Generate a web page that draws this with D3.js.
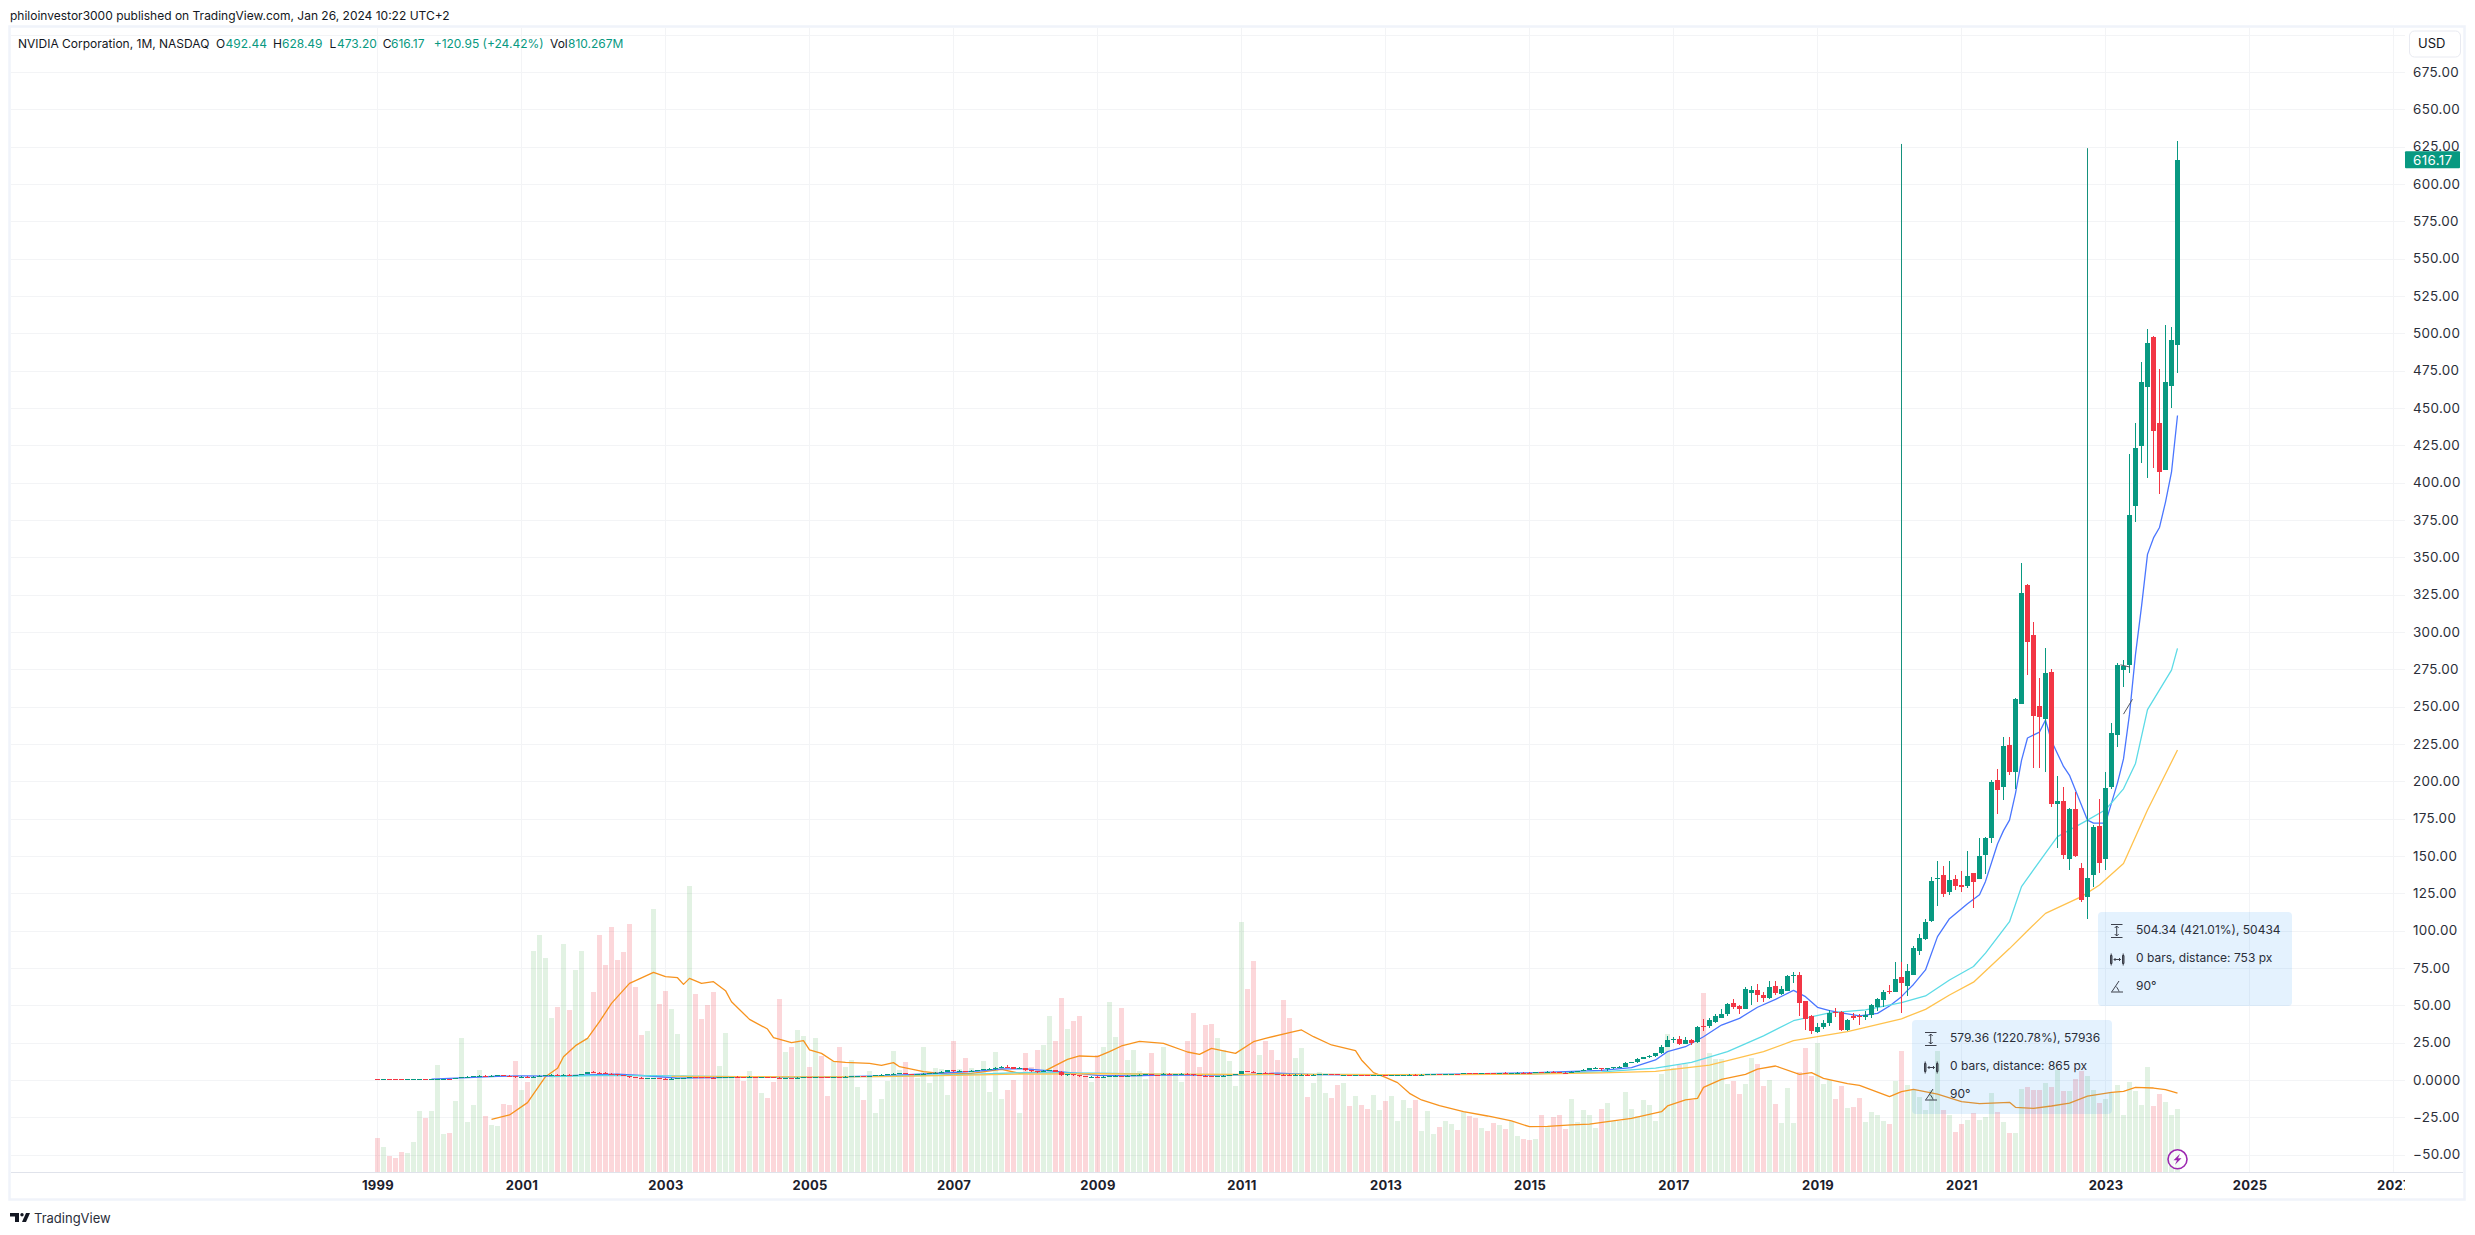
<!DOCTYPE html>
<html>
<head>
<meta charset="utf-8">
<script src="https://cdnjs.cloudflare.com/ajax/libs/d3/7.8.5/d3.min.js"></script>
<style>
    html, body { margin: 0; padding: 0; background: #fff; }
    svg { display: block; }
    text { font-family: Inter, "Noto Sans", sans-serif; }
</style>
</head>
<body>
<div id="chart"></div>
<script>
//monthly bars, bar 0 is Jan 1999 and bar 300 is Jan 2024
const opens = [
    .45,.40,.42,.38,.36,.34,.38,.42,.50,.46,.55,.75,
    .90,.85,1.4,1.9,2.1,2.4,3.0,2.8,2.9,3.2,2.9,2.4,
    1.8,2.2,1.8,2.2,2.9,3.2,3.5,3.2,3.6,2.9,3.3,3.9,
    5.2,4.9,4.6,4.3,3.9,3.2,2.6,2.0,1.6,1.0,1.1,1.4,
    1.0,.9,1.0,1.2,1.3,1.9,1.8,1.7,1.65,1.6,1.8,2.0,
    2.1,2.0,1.9,2.1,1.9,2.05,1.9,1.6,1.2,1.4,1.3,1.6,
    2.0,1.9,2.0,1.85,1.75,2.1,2.0,2.2,2.4,2.7,2.5,2.9,
    3.3,3.6,3.8,4.3,4.7,4.0,3.6,3.8,4.1,4.6,5.0,5.5,
    6.4,5.8,6.0,5.7,6.1,6.6,7.3,7.7,8.2,8.9,8.5,7.6,
    7.8,6.5,5.7,5.5,6.2,6.6,5.6,3.4,3.7,3.3,2.6,2.2,
    2.3,2.1,2.2,2.5,2.8,2.6,3.0,3.4,3.6,3.7,3.4,3.2,
    4.0,3.6,3.8,4.3,3.9,3.4,3.0,2.8,2.5,2.7,3.0,3.4,
    3.8,5.8,5.6,4.6,4.7,4.5,4.0,3.5,3.4,3.1,3.4,3.6,
    3.4,3.6,3.8,3.9,3.8,3.4,3.5,3.3,3.45,3.3,3.1,3.15,
    3.2,3.05,3.1,3.2,3.3,3.6,3.55,3.6,3.8,3.95,3.8,3.95,
    4.05,3.9,4.6,4.4,4.3,4.8,4.7,4.6,4.9,4.7,4.8,5.0,
    4.9,4.7,5.3,5.2,5.5,5.4,5.0,4.9,5.5,6.1,7.0,7.8,
    8.2,7.1,7.8,8.9,9.0,11.7,11.8,14.3,15.3,16.0,17.9,22.4,
    26.7,27.5,24.1,27,25.4,36.2,36,39.1,41.5,44.2,51.3,49.6,
    47.5,58.5,60.3,56.9,54.9,62.9,57.8,59.8,69.9,70.1,52.9,43.1,
    32.4,35.7,37.9,45.3,45.3,33.5,43.1,42.6,42,43.3,48.9,53.8,
    59.4,59,68.8,63.2,70.5,86.6,94.4,106.7,134.8,137.3,126,134.6,
    130.6,129.9,138.8,134.6,150.7,162,200.9,196.2,224.3,206.5,252,331.5,
    298,250.4,242,273.2,184.8,186.6,148,181.3,142,122.8,137.3,170,
    148,196.4,231,274.6,277.9,384.6,424.8,464.3,497.5,440,408.7,465,
    492.44
];
const closes = [
    .40,.42,.38,.36,.34,.38,.42,.50,.46,.55,.75,.90,
    .85,1.4,1.9,2.1,2.4,3.0,2.8,2.9,3.2,2.9,2.4,1.8,
    2.2,1.8,2.2,2.9,3.2,3.5,3.2,3.6,2.9,3.3,3.9,5.2,
    4.9,4.6,4.3,3.9,3.2,2.6,2.0,1.6,1.0,1.1,1.4,1.0,
    .9,1.0,1.2,1.3,1.9,1.8,1.7,1.65,1.6,1.8,2.0,2.1,
    2.0,1.9,2.1,1.9,2.05,1.9,1.6,1.2,1.4,1.3,1.6,2.0,
    1.9,2.0,1.85,1.75,2.1,2.0,2.2,2.4,2.7,2.5,2.9,3.3,
    3.6,3.8,4.3,4.7,4.0,3.6,3.8,4.1,4.6,5.0,5.5,6.4,
    5.8,6.0,5.7,6.1,6.6,7.3,7.7,8.2,8.9,8.5,7.6,7.8,
    6.5,5.7,5.5,6.2,6.6,5.6,3.4,3.7,3.3,2.6,2.2,2.3,
    2.1,2.2,2.5,2.8,2.6,3.0,3.4,3.6,3.7,3.4,3.2,4.0,
    3.6,3.8,4.3,3.9,3.4,3.0,2.8,2.5,2.7,3.0,3.4,3.8,
    5.8,5.6,4.6,4.7,4.5,4.0,3.5,3.4,3.1,3.4,3.6,3.4,
    3.6,3.8,3.9,3.8,3.4,3.5,3.3,3.45,3.3,3.1,3.15,3.2,
    3.05,3.1,3.2,3.3,3.6,3.55,3.6,3.8,3.95,3.8,3.95,4.05,
    3.9,4.6,4.4,4.3,4.8,4.7,4.6,4.9,4.7,4.8,5.0,4.9,
    4.7,5.3,5.2,5.5,5.4,5.0,4.9,5.5,6.1,7.0,7.8,8.2,
    7.1,7.9,8.9,8.95,11.6,11.75,14.3,15.3,16.0,17.9,22.4,26.7,
    27.3,24.1,27,25,35.7,36,40.2,42.9,44.2,50.9,48.7,47.8,
    60.9,60.3,57.1,55.1,62.3,58.4,60.7,69.6,70.1,51.8,40.6,33,
    35.3,38.5,44.9,44.6,33.5,40,41.7,42,43.3,50,54.2,59.2,
    59,67.4,65.2,73,88.2,95.1,105.6,133.3,135,124.6,133.9,129.9,
    129.5,136.6,132.6,150,162.3,199.6,194.2,223.7,206.5,254.9,325.9,293.3,
    243.8,243,272.5,184.8,186.6,150.7,181.5,149.8,120.5,135,169.2,145.5,
    195.5,232.1,277.9,277.2,378.3,423.2,467.4,493.5,434.8,407.4,467.4,495.5,
    616.17
];
const highs = [
    .46,.45,.43,.40,.38,.40,.45,.52,.52,.58,.80,1.0,
    1.0,1.5,2.1,2.5,2.6,3.3,3.4,3.2,3.6,3.5,3.1,2.6,
    2.6,2.5,2.4,3.2,3.6,3.9,3.7,3.8,3.7,3.5,4.3,5.6,
    5.7,5.5,5.2,4.7,4.0,3.3,2.7,2.2,1.7,1.3,1.6,1.5,
    1.1,1.1,1.3,1.5,2.0,2.2,2.0,1.9,1.9,2.0,2.2,2.3,
    2.4,2.2,2.4,2.3,2.2,2.2,2.0,1.7,1.5,1.6,1.8,2.2,
    2.2,2.2,2.2,1.95,2.2,2.3,2.4,2.6,2.8,2.8,3.0,3.4,
    3.9,4.0,4.4,5.0,5.0,4.3,3.9,4.4,4.8,5.2,5.7,6.6,
    6.7,6.4,6.2,6.4,6.9,7.6,8.2,8.6,9.2,9.9,8.9,8.5,
    7.9,6.9,6.1,6.4,7.0,6.8,5.7,4.1,3.9,3.4,2.8,2.6,
    2.6,2.6,2.9,3.2,3.0,3.2,3.6,3.8,4.0,3.9,3.6,4.4,
    4.6,4.0,4.5,4.6,4.1,3.6,3.1,3.0,2.8,3.1,3.6,3.9,
    6.0,6.2,5.9,5.0,5.1,4.6,4.2,3.7,3.9,3.9,3.9,3.9,
    3.8,4.0,4.0,4.0,3.8,3.6,3.6,3.6,3.6,3.4,3.2,3.3,
    3.3,3.2,3.3,3.4,3.8,3.8,3.8,4.0,4.1,4.0,4.1,4.1,
    4.2,4.7,4.8,4.6,4.9,5.0,4.9,5.0,5.1,4.9,5.2,5.2,
    5.1,5.5,5.6,5.7,5.8,5.5,5.1,5.7,6.3,7.2,8.0,8.7,
    8.3,8.0,9.0,9.4,11.8,12.0,14.6,15.6,16.6,18.1,23.5,29.5,
    28.9,29.5,28.5,27.6,36,41,41.5,44.5,47.5,51.5,54,50.5,
    62,63,64,59,66,66.5,63,70.5,72,72.5,53,43.5,
    38,40,47,48,46,41,45,44,46,51,55,60,
    63.5,79,79,78,90,98,107.6,135.7,146.7,143.3,146.7,137.3,
    140,153.3,138.9,162,163,201,208,230,229.5,256,346.2,332,
    307,269,289,275,203.6,196,182,192.9,145.5,135,171,188,
    206,238.8,279,281,419,440,480.8,503,498,476,505.6,504.5,
    628.49
];
const lows = [
    .38,.38,.36,.34,.32,.33,.36,.40,.44,.44,.52,.72,
    .75,.8,1.3,1.5,1.8,2.2,2.5,2.5,2.7,2.5,2.0,1.5,
    1.6,1.6,1.5,2.0,2.6,2.9,3.0,3.0,2.7,2.6,3.1,3.8,
    4.6,4.2,4.0,3.6,3.0,2.4,1.6,1.2,.9,.8,.95,.9,
    .8,.85,.9,1.1,1.25,1.7,1.5,1.5,1.5,1.5,1.7,1.8,
    1.9,1.7,1.8,1.8,1.7,1.8,1.5,1.1,1.1,1.2,1.2,1.5,
    1.7,1.8,1.8,1.6,1.7,1.9,1.9,2.1,2.3,2.3,2.4,2.8,
    3.2,3.4,3.7,4.2,3.8,3.1,3.2,3.6,4.0,4.5,4.9,5.4,
    5.5,5.5,5.3,5.6,6.0,6.4,7.0,6.6,8.0,8.2,7.2,7.3,
    5.9,5.4,5.0,5.4,6.0,5.4,2.9,3.0,2.4,2.0,1.7,1.9,
    1.9,1.9,2.0,2.4,2.4,2.5,2.7,3.2,3.3,3.2,3.0,3.1,
    3.4,3.4,3.7,3.7,3.0,2.6,2.4,2.3,2.4,2.6,2.9,3.3,
    3.8,5.1,4.4,4.2,4.3,3.8,3.4,2.9,3.0,2.9,3.3,3.2,
    3.3,3.5,3.6,3.5,3.2,3.1,3.1,3.2,3.2,3.0,2.9,3.0,
    3.0,3.0,3.0,3.1,3.2,3.4,3.5,3.5,3.7,3.7,3.7,3.8,
    3.8,3.9,4.3,4.2,4.3,4.6,4.3,4.5,4.6,4.3,4.7,4.7,
    4.5,4.7,5.1,5.1,5.3,4.9,4.6,4.7,5.4,6.0,6.9,7.6,
    6.3,6.3,7.6,8.6,8.9,11.1,11.5,14.0,14.9,15.4,17.6,22.2,
    25,23.5,23.8,23.6,25,33,35,38.5,41.2,43,47.5,44.5,
    47.5,50,52.5,52,54,57,57,59.5,65,43,33.5,31,
    31.5,34,36,42.5,33,33,40,36.5,40,41.5,46,49,
    57.5,58.7,45,56,70,84,94,106,116.7,122.8,124,127,
    126,128.8,115.2,134.6,138,159,178,187.5,204,195,252,271,
    209,209,206.5,183,155.4,148,140.6,149.6,119,108,129.5,138.4,
    140.6,195,223,263,272.8,373.9,413.4,403.3,410,392.6,408.7,450,
    473.20
];

//monthly volume in millions of shares
const volumes = [
    435,320,209,179,256,243,384,781,696,781,1370,486,
    499,909,1715,640,858,1306,717,602,589,870,858,1421,
    1050,1152,2829,3034,2739,1971,2112,2919,2074,2586,2829,1715,
    2304,3034,2650,3136,2714,2816,3175,2368,1754,1805,3367,2151,
    2317,2087,1767,1242,3661,2279,1959,2138,2304,1357,1779,1199,
    1212,1165,1293,1212,1011,947,1152,2215,1536,1600,1818,1741,
    1344,1715,1485,973,1421,1600,1344,1434,1088,922,1293,755,
    934,1165,1549,1306,1408,1242,1199,1600,1139,1331,1319,986,
    1677,1319,1459,1331,1255,1421,1024,1536,934,1050,1178,755,
    1523,1344,1562,1626,1997,1677,2227,1831,1933,1997,1237,1152,
    1498,1600,2176,1728,2099,1434,1562,1293,1190,1523,1242,1600,
    1255,1242,1152,1677,2035,1344,1882,1895,1715,1562,1421,1101,
    3200,2343,2701,1498,1677,1562,1434,2202,1971,1459,1587,960,
    1139,1280,1011,947,1114,1139,845,973,858,806,986,794,
    909,973,653,922,819,922,525,781,486,576,653,614,
    538,768,717,691,563,525,627,602,550,653,461,422,
    410,422,730,589,704,730,550,934,640,794,730,563,
    806,883,653,653,1024,806,717,922,858,653,1255,1767,
    1331,1370,1383,922,1690,2291,1523,1447,1447,1126,1165,998,
    1126,1459,1383,1101,1178,870,627,1075,627,1280,1587,1229,
    1651,1126,1178,934,1101,819,832,947,640,768,730,653,
    614,1165,1549,1114,1050,960,794,1050,1549,794,725,512,
    614,666,755,666,704,1011,768,640,499,499,1062,1088,
    1050,1050,1139,1092,1310,1041,1041,1195,1297,1233,1054,888,
    939,1020,1118,734,1156,1041,862,1348,849,1003,900,734,
    811
];

//moving averages, bar index and value
const blueBars = [9,15,20,24,30,36,40,46,50,56,62,70,76,84,92,100,104,108,114,120,126,132,138,144,150,156,168,180,192,204,209,213,215,218,221,224,227,230,233,236,238,240,242,244,247,250,252,254,255,256,258,260,262,265,267,268,270,271,272,273,274,275,277,278,279,281,282,283,285,286,288,290,291,292,293,294,295,296,297,298,299,300];
const blueValues = [.6,1.6,2.5,2.7,2.6,3.6,4,2.5,1.2,1.6,2,1.7,2,2.8,4.2,6,7.5,7.5,5.5,3.1,2.8,3.5,3.3,3.5,4.6,3.6,3.3,3.9,4.8,6.5,8.3,13.4,19,22.3,29,36.8,41.3,48.7,54,60,55.8,48.7,46.4,45,42.9,44.6,49.6,55.8,60,64,73.7,96,108,118,124,133,158,167,174,192,214,229,233,241,227,210,204,194,174,172,172,199,215,245,285,317,352,363,370,387,407,445];
const cyanBars = [29,36,46,56,70,84,100,108,120,132,144,156,168,180,192,204,213,219,225,231,236,242,248,254,258,262,266,268,272,274,278,280,285,288,291,293,295,299,300];
const cyanValues = [2.3,3,2.9,2.4,1.9,2.4,4,5,4.6,3.8,3.6,3.8,3.6,3.8,4.2,5.5,8,11.8,19,29.5,39.7,45,46.9,51.8,56.3,67,76,85,106,129.5,152,163,174,181,195,212,248,274.5,289];
const yellowBars = [49,60,72,84,96,108,120,132,144,156,168,180,192,204,213,222,231,236,245,254,258,262,266,272,275,278,284,287,291,295,300];
const yellowValues = [2.4,2.3,2.1,2.3,3.1,4,4.2,3.9,3.7,3.8,3.6,3.6,3.9,4.8,5.8,10,19,26.3,32.4,41,47.3,56.9,65.5,88,100,111.6,122.8,130.6,145,180.8,221];
//orange line sits on the volume scale, values in millions
const orangeBars = [19,22,25,28,30,31,33,35,37,39,42,46,48,50,51,52,54,56,58,59,62,65,66,69,71,72,74,76,78,82,84,86,87,89,91,95,99,104,107,111,115,117,120,122,124,127,131,135,137,139,143,146,148,152,154,156,159,163,164,166,168,170,172,174,177,181,185,189,192,195,199,202,205,209,214,215,218,220,221,224,228,230,233,237,239,241,245,247,252,254,256,260,264,267,272,273,276,279,282,285,289,291,293,296,298,300];
const orangeValues = [674,730,888,1220,1327,1476,1617,1711,1924,2159,2415,2556,2500,2487,2402,2479,2415,2436,2321,2180,1954,1830,1720,1656,1681,1562,1519,1417,1404,1391,1365,1400,1348,1318,1284,1254,1263,1314,1263,1284,1442,1485,1476,1540,1613,1673,1647,1536,1506,1583,1519,1668,1711,1784,1818,1732,1626,1553,1434,1272,1212,1144,1007,922,849,772,717,653,580,585,602,614,644,687,772,845,922,943,1084,1186,1250,1318,1357,1250,1272,1199,1131,1109,964,1028,1058,998,900,875,892,828,815,845,881,971,1020,1033,1084,1075,1054,1011];

//axis ticks
const priceTicks = [-50,-25,0,25,50,75,100,125,150,175,200,225,250,275,300,325,350,375,400,425,450,475,500,525,550,575,600,625,650,675];
const priceGrid = [-50,-25,0,25,50,75,100,125,150,175,200,225,250,275,300,325,350,375,400,425,450,475,500,525,550,575,600,625,650,675,700];
const yearLabels = [1999,2001,2003,2005,2007,2009,2011,2013,2015,2017,2019,2021,2023,2025,2027];

//the two vertical measure lines and their info boxes
const measureBars = [254,285];
const measureFrom = [47.46,108];
const measureTo = [626.82,624];
const measureLines = [
    ['579.36 (1220.78%), 57936','0 bars, distance: 865 px','90°'],
    ['504.34 (421.01%), 50434','0 bars, distance: 753 px','90°']
];
//small black strokes left of the Apr 2023 candle
const strayBars = [[290.5,292.1],[291,292.5]];
const strayValues = [[278,276.5],[245,255]];

//header texts
const publishedText = 'philoinvestor3000 published on TradingView.com, Jan 26, 2024 10:22 UTC+2';
const symbolText = 'NVIDIA Corporation, 1M, NASDAQ';
const legendLabels = ['O','H','L','C','','Vol'];
const legendValues = ['492.44','628.49','473.20','616.17','+120.95 (+24.42%)','810.267M'];

const upColor = '#089981';
const downColor = '#f23645';
const gridColor = '#f3f4f6';
const frameColor = '#f0f3fa';
const textColor = '#131722';

const width = 2475, height = 1235;
const plot = { left: 11, right: 2405, top: 28, bottom: 1172 };

const svg = d3.select('#chart').append('svg')
    .attr('width', width)
    .attr('height', height);

//one bar is 6 px wide, bar index 0 is Jan 1999
const x = d3.scaleLinear().domain([0, 336]).range([377.5, 2393.5]);
const y = d3.scaleLinear().domain([-50, 700]).range([1154.67, 34.67]);
const yVol = d3.scaleLinear().domain([0, 3661]).range([plot.bottom, 886]);

//published line above the chart
svg.append('text').attr('x', 10).attr('y', 20)
    .attr('font-size', 12).attr('fill', textColor).text(publishedText);

//frame around chart
svg.append('rect').attr('x', 9.5).attr('y', 26.5)
    .attr('width', 2455).attr('height', 1173)
    .attr('fill', 'none').attr('stroke', frameColor).attr('stroke-width', 2.5);

const defs = svg.append('defs');
defs.append('clipPath').attr('id', 'pane').append('rect')
    .attr('x', plot.left).attr('y', plot.top)
    .attr('width', plot.right - plot.left).attr('height', plot.bottom - plot.top);
defs.append('clipPath').attr('id', 'timeClip').append('rect')
    .attr('x', plot.left).attr('y', plot.bottom)
    .attr('width', plot.right - plot.left).attr('height', 26);

const pane = svg.append('g').attr('clip-path', 'url(#pane)');

//horizontal and vertical grid
pane.append('g').selectAll('line').data(priceGrid).enter().append('line')
    .attr('x1', plot.left).attr('x2', plot.right)
    .attr('y1', d => Math.round(y(d)) + 0.5).attr('y2', d => Math.round(y(d)) + 0.5)
    .attr('stroke', gridColor);
pane.append('g').selectAll('line').data(yearLabels).enter().append('line')
    .attr('x1', d => Math.floor(x((d - 1999) * 12)) + 0.5).attr('x2', d => Math.floor(x((d - 1999) * 12)) + 0.5)
    .attr('y1', plot.top).attr('y2', plot.bottom)
    .attr('stroke', gridColor);

//volume bars
const isUp = i => closes[i] >= opens[i];
pane.append('g').attr('shape-rendering', 'crispEdges').selectAll('rect').data(volumes).enter().append('rect')
    .attr('x', (d, i) => x(i) - 2.5)
    .attr('width', 5)
    .attr('y', d => yVol(d))
    .attr('height', d => plot.bottom - yVol(d))
    .attr('fill', (d, i) => isUp(i) ? '#4caf50' : downColor)
    .attr('fill-opacity', (d, i) => isUp(i) ? 0.16 : 0.2);

//line helper for the sparse moving average readings
function drawAverage(bars, values, scale, color, strokeWidth) {
    const line = d3.line().x(d => x(d[0])).y(d => scale(d[1]));
    pane.append('path')
        .datum(bars.map((b, i) => [b, values[i]]))
        .attr('d', line)
        .attr('fill', 'none')
        .attr('stroke', color)
        .attr('stroke-width', strokeWidth)
        .attr('stroke-linejoin', 'round');
}

drawAverage(orangeBars, orangeValues, yVol, '#f7931e', 1.3);
drawAverage(blueBars, blueValues, y, '#4a76ff', 1.3);
drawAverage(cyanBars, cyanValues, y, '#5cdbe6', 1.3);
drawAverage(yellowBars, yellowValues, y, '#ffc24d', 1.3);

//measure lines go under the candles
pane.append('g').selectAll('line').data(measureBars).enter().append('line')
    .attr('x1', d => x(d)).attr('x2', d => x(d))
    .attr('y1', (d, i) => y(measureTo[i])).attr('y2', (d, i) => y(measureFrom[i]))
    .attr('stroke', '#15917c').attr('stroke-width', 1);

//candles, wick then body
const candles = pane.append('g').attr('shape-rendering', 'crispEdges');
candles.selectAll('.wick').data(closes).enter().append('rect')
    .attr('class', 'wick')
    .attr('x', (d, i) => x(i) - 0.5)
    .attr('width', 1)
    .attr('y', (d, i) => y(highs[i]))
    .attr('height', (d, i) => y(lows[i]) - y(highs[i]))
    .attr('fill', (d, i) => isUp(i) ? upColor : downColor);
candles.selectAll('.body').data(closes).enter().append('rect')
    .attr('class', 'body')
    .attr('x', (d, i) => x(i) - 2.5)
    .attr('width', 5)
    .attr('y', (d, i) => y(Math.max(opens[i], closes[i])))
    .attr('height', (d, i) => Math.max(1, Math.abs(y(opens[i]) - y(closes[i]))))
    .attr('fill', (d, i) => isUp(i) ? upColor : downColor);

//stray strokes near the 2023 candles
strayBars.forEach(function(bars, k) {
    pane.append('line')
        .attr('x1', x(bars[0])).attr('x2', x(bars[1]))
        .attr('y1', y(strayValues[k][0])).attr('y2', y(strayValues[k][1]))
        .attr('stroke', '#55585f').attr('stroke-width', 1);
});

//measure info boxes, drawn over the chart
function drawInfoBox(boxX, boxY, boxW, lines) {
    const g = svg.append('g').attr('transform', `translate(${boxX},${boxY})`);
    g.append('rect').attr('width', boxW).attr('height', 94).attr('rx', 4)
        .attr('fill', '#2196f3').attr('fill-opacity', 0.12);
    lines.forEach(function(t, k) {
        g.append('text').attr('x', 38).attr('y', 22 + k * 28)
            .attr('font-size', 12).attr('fill', '#2a2e39').text(t);
    });
    const icon = g.append('g').attr('fill', 'none').attr('stroke', '#2a2e39').attr('stroke-width', 0.9);
    //height icon
    icon.append('path').attr('d', 'M13,12.5H24.5M13,25.5H24.5M18.7,14V24M16.7,16L18.7,14L20.7,16M16.7,22L18.7,24L20.7,22');
    //bars icon
    icon.append('path').attr('d', 'M12.5,43.5H14V51.5H12.5ZM24.5,43.5H26V51.5H24.5ZM13.2,41.5V53.5M25.2,41.5V53.5M16,47.5H22.5M17.5,46L16,47.5L17.5,49M21,46L22.5,47.5L21,49');
    //angle icon
    icon.append('path').attr('d', 'M13,80H25M14,79.5L21,69M18,74.5C19.5,76 20.5,78 21,79.5');
}
drawInfoBox(1912, 1020, 200, measureLines[0]);
drawInfoBox(2098, 912, 194, measureLines[1]);

//lightning badge on the last bar
const badge = svg.append('g').attr('transform', `translate(${x(300)},1159.3)`);
badge.append('circle').attr('r', 9.5).attr('fill', '#fff').attr('fill-opacity', 0.6)
    .attr('stroke', '#9c27b0').attr('stroke-width', 1.6);
badge.append('path').attr('d', 'M2.5,-5.5L-4,1H-0.5L-2.5,5.5L4,-1H0.5Z').attr('fill', '#9c27b0');

//price scale on the right
const yAxis = d3.axisRight(y)
    .tickValues(priceTicks)
    .tickSize(0)
    .tickPadding(0)
    .tickFormat(d => d === 0 ? '0.0000' : d3.format('.2f')(d).replace('-', '\u2212'));
const yAxisG = svg.append('g').attr('transform', 'translate(2413,0)').call(yAxis);
yAxisG.select('.domain').remove();
yAxisG.selectAll('text')
    .attr('font-size', 13.4).attr('font-family', 'Inter, "Noto Sans", sans-serif')
    .attr('letter-spacing', 0.35).attr('fill', '#2a2e39');

//time scale at the bottom, clipped where it meets the price scale
svg.append('line').attr('x1', plot.left).attr('x2', 2463)
    .attr('y1', plot.bottom + 0.5).attr('y2', plot.bottom + 0.5)
    .attr('stroke', '#e0e3eb');
const xAxis = d3.axisBottom(x)
    .tickValues(yearLabels.map(d => (d - 1999) * 12))
    .tickSize(0)
    .tickPadding(0)
    .tickFormat(d => String(1999 + d / 12));
const xAxisG = svg.append('g').attr('clip-path', 'url(#timeClip)')
    .append('g').attr('transform', 'translate(0,1181)').call(xAxis);
xAxisG.select('.domain').remove();
xAxisG.selectAll('text')
    .attr('font-size', 13).attr('font-weight', 700).attr('font-family', 'Inter, "Noto Sans", sans-serif')
    .attr('letter-spacing', 0.3).attr('fill', '#1c202b');

//last price tag
svg.append('rect').attr('x', 2405).attr('y', y(616.17) - 8.5).attr('width', 55).attr('height', 17).attr('rx', 1)
    .attr('fill', upColor);
svg.append('text').attr('x', 2413).attr('y', y(616.17) + 4.7)
    .attr('font-size', 13.4).attr('letter-spacing', 0.35).attr('fill', '#fff').text('616.17');

//currency button
svg.append('rect').attr('x', 2409.5).attr('y', 31).attr('width', 51).attr('height', 26).attr('rx', 5)
    .attr('fill', '#fff').attr('stroke', '#e8eaf1');
svg.append('text').attr('x', 2418).attr('y', 48)
    .attr('font-size', 13).attr('fill', textColor).text('USD');

//symbol legend
svg.append('text').attr('x', 18).attr('y', 47.5)
    .attr('font-size', 12).attr('fill', textColor).text(symbolText);
const legendLabelX = [216, 273, 329.6, 382.7, 0, 550];
const legendValueX = [225.5, 282, 337, 391, 433.7, 568];
legendLabels.forEach(function(t, k) {
    if (t) {
        svg.append('text').attr('x', legendLabelX[k]).attr('y', 47.5)
            .attr('font-size', 12).attr('fill', textColor).text(t);
    }
    svg.append('text').attr('x', legendValueX[k]).attr('y', 47.5)
        .attr('font-size', 12).attr('fill', upColor).text(legendValues[k]);
});

//TradingView logo at the bottom
const logo = svg.append('g').attr('transform', 'translate(10,1213)').attr('fill', textColor);
logo.append('path').attr('d', 'M0,0H9V9H5V3.5H0Z');
logo.append('circle').attr('cx', 12).attr('cy', 1.7).attr('r', 1.7);
logo.append('path').attr('d', 'M16,0H20L16,9H12Z');
svg.append('text').attr('x', 34).attr('y', 1223)
    .attr('font-size', 13).attr('fill', '#2a2e39').text('TradingView');
</script>
</body>
</html>
